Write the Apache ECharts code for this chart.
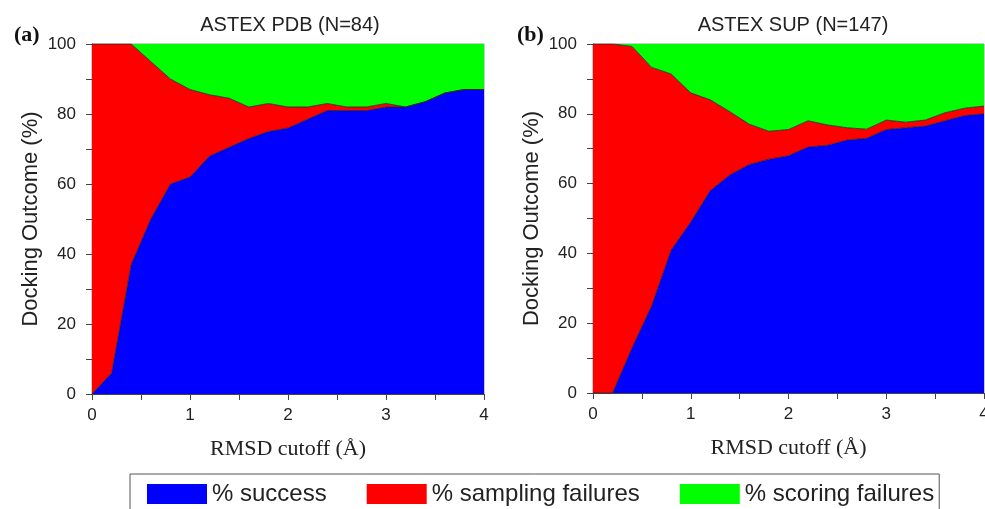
<!DOCTYPE html>
<html>
<head>
<meta charset="utf-8">
<script src="https://cdn.jsdelivr.net/npm/echarts@6/dist/echarts.min.js"></script>
<style>
  html, body { margin: 0; padding: 0; background: #fff; }
  #chart_div { width: 985px; height: 509px; }
</style>
</head>
<body>
<div id="chart_div"></div>
<script>
// RMSD cutoffs (Å), shared by both panels
var cutoffs = ["0", "0.2", "0.4", "0.6", "0.8", "1.0", "1.2", "1.4", "1.6", "1.8", "2.0", "2.2", "2.4", "2.6", "2.8", "3.0", "3.2", "3.4", "3.6", "3.8", "4.0"];

// (a) ASTEX PDB (N=84)
var pdbSuccess = [0, 6, 37, 50, 60, 62, 68, 70.5, 73, 75, 76, 78.5, 81, 81, 81, 82, 82, 83.5, 86, 87, 87];
var pdbSampling = [100, 94, 63, 45, 30, 25, 17.5, 14, 9, 8, 6, 3.5, 2, 1, 1, 1, 0, 0, 0, 0, 0];
var pdbScoring = [0, 0, 0, 5, 10, 13, 14.5, 15.5, 18, 17, 18, 18, 17, 18, 18, 17, 18, 16.5, 14, 13, 13];

// (b) ASTEX SUP (N=147)
var supSuccess = [0, 0, 13, 25, 41, 49, 58, 62.5, 65.5, 67, 68, 70.5, 71, 72.5, 73, 75.5, 76, 76.5, 78, 79.5, 80];
var supSampling = [100, 100, 86.3, 68.3, 50.4, 37, 26, 18.1, 11.5, 8, 7.5, 7.5, 5.8, 3.5, 2.6, 2.7, 1.6, 1.7, 2.3, 2.1, 2.2];
var supScoring = [0, 0, 0.7, 6.7, 8.6, 14, 16, 19.4, 23, 25, 24.5, 22, 23.2, 24, 24.4, 21.8, 22.4, 21.8, 19.7, 18.4, 17.8];

var names = ["% success", "% sampling failures", "% scoring failures"];
var colors = ["#0000ff", "#ff0000", "#00ff00"];
var titles = ["ASTEX PDB (N=84)", "ASTEX SUP (N=147)"];
var panelTags = ["(a)", "(b)"];

// series sit on hidden category axes (index 2, 3) so the stack works,
// the visible value axes (index 0, 1) carry the 0..4 ticks
function makeSeries(idx, lists) {
  return lists.map(function (vals, k) {
    return {
      name: names[k],
      type: "line",
      stack: "panel" + idx,
      xAxisIndex: idx + 2,
      yAxisIndex: idx,
      symbol: "none",
      silent: true,
      lineStyle: { color: "#222", width: k === 2 ? 0 : 0.8 },
      areaStyle: { color: colors[k], opacity: 1 },
      itemStyle: { color: colors[k] },
      data: vals
    };
  });
}

function xAxis(idx) {
  return {
    type: "value",
    gridIndex: idx,
    min: 0,
    max: 4,
    interval: 1,
    name: "RMSD cutoff (Å)",
    nameLocation: "middle",
    nameGap: 44,
    nameTextStyle: { fontFamily: "Liberation Serif", fontSize: 22, color: "#222" },
    axisLine: { show: true, lineStyle: { color: "#444", width: 1 } },
    axisTick: { show: true, length: 6, lineStyle: { color: "#444" } },
    minorTick: { show: true, splitNumber: 2, length: 6, lineStyle: { color: "#444" } },
    splitLine: { show: false },
    axisLabel: { fontFamily: "Liberation Sans", fontSize: 17, color: "#222", margin: 13 }
  };
}

function catAxis(idx) {
  return {
    type: "category",
    gridIndex: idx,
    data: cutoffs,
    boundaryGap: false,
    show: false
  };
}

function yAxis(idx) {
  return {
    type: "value",
    gridIndex: idx,
    min: 0,
    max: 100,
    interval: 20,
    name: "Docking Outcome (%)",
    nameLocation: "middle",
    nameGap: 50,
    nameTextStyle: { fontFamily: "Liberation Sans", fontSize: 22, color: "#222" },
    axisLine: { show: true, lineStyle: { color: "#444", width: 1 } },
    axisTick: { show: true, length: 6, lineStyle: { color: "#444" } },
    minorTick: { show: true, splitNumber: 2, length: 6, lineStyle: { color: "#444" } },
    splitLine: { show: false },
    axisLabel: { fontFamily: "Liberation Sans", fontSize: 17, color: "#222", margin: 16 }
  };
}

var myChart = echarts.init(document.getElementById("chart_div"));

var option = {
  animation: false,
  backgroundColor: "#fff",
  title: [
    {
      text: titles[0], left: 285, top: 10, textAlign: "center",
      textStyle: { fontFamily: "Liberation Sans", fontWeight: "normal", fontSize: 20, color: "#222" }
    },
    {
      text: titles[1], left: 788, top: 10, textAlign: "center",
      textStyle: { fontFamily: "Liberation Sans", fontWeight: "normal", fontSize: 20, color: "#222" }
    },
    {
      text: panelTags[0], left: 9, top: 19,
      textStyle: { fontFamily: "Liberation Serif", fontWeight: "bold", fontSize: 22, color: "#111" }
    },
    {
      text: panelTags[1], left: 512, top: 19,
      textStyle: { fontFamily: "Liberation Serif", fontWeight: "bold", fontSize: 22, color: "#111" }
    }
  ],
  legend: {
    data: names,
    left: 130,
    top: 474,
    icon: "rect",
    itemWidth: 60,
    itemHeight: 20,
    itemGap: 40,
    padding: [8, 5, 12, 17],
    borderColor: "#555",
    borderWidth: 1,
    selectedMode: false,
    textStyle: { fontFamily: "Liberation Sans", fontSize: 24, color: "#222" }
  },
  grid: [
    { left: 92, top: 44, width: 392, height: 350, outerBoundsMode: "none", show: true, borderColor: "#999", borderWidth: 1 },
    { left: 593, top: 44, width: 391, height: 349, outerBoundsMode: "none", show: true, borderColor: "#999", borderWidth: 1 }
  ],
  xAxis: [xAxis(0), xAxis(1), catAxis(0), catAxis(1)],
  yAxis: [yAxis(0), yAxis(1)],
  series: makeSeries(0, [pdbSuccess, pdbSampling, pdbScoring])
    .concat(makeSeries(1, [supSuccess, supSampling, supScoring]))
};

myChart.setOption(option);
</script>
</body>
</html>
